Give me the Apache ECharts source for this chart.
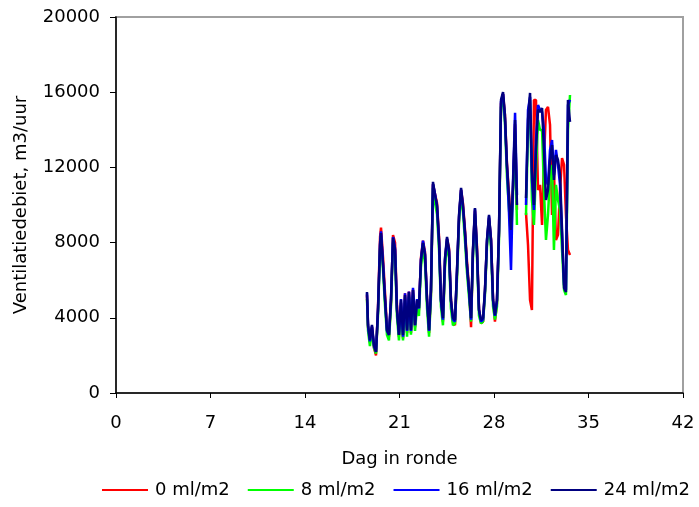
<!DOCTYPE html>
<html>
<head>
<meta charset="utf-8">
<script src="https://cdn.jsdelivr.net/npm/echarts@6/dist/echarts.min.js"></script>
<style>
  html, body { margin: 0; padding: 0; background: #fff; }
  #chart { width: 699px; height: 507px; }
</style>
</head>
<body>
<div id="chart"></div>
<script>
// Measurement days (day in round); two runs with a short outage between them
const daysRun1 = [18.59, 18.67, 18.81, 18.96, 19.11, 19.26, 19.41, 19.56,
  19.63, 19.78, 19.93, 20.07, 20.22, 20.37, 20.52, 20.67, 20.81, 20.96,
  21.11, 21.26, 21.41, 21.56, 21.70, 21.85, 22.00, 22.15, 22.30, 22.44,
  22.59, 22.74, 22.89, 23.04, 23.19, 23.33, 23.48, 23.63, 23.78, 23.93,
  24.07, 24.22, 24.37, 24.52, 24.67, 24.81, 24.96, 25.11, 25.26, 25.41,
  25.56, 25.70, 25.85, 26.00, 26.15, 26.30, 26.44, 26.59, 26.74, 26.89,
  27.04, 27.19, 27.33, 27.48, 27.63, 27.78, 27.93, 28.07, 28.22, 28.37,
  28.52, 28.67, 28.81, 28.96, 29.11, 29.26, 29.41, 29.56, 29.70];
const daysRun2 = [30.37, 30.52, 30.67, 30.81, 30.96, 31.11, 31.26, 31.41,
  31.56, 31.70, 31.85, 32.00, 32.15, 32.30, 32.44, 32.59, 32.74, 32.89,
  33.04, 33.19, 33.33, 33.48, 33.63];
const gapDay = 30.0;

// Ventilation rate (m3/uur) per dose
const flow0Run1 = [5200, 3500, 2700, 3500, 2400, 2000, 4600, 8300, 8800, 7200,
  5300, 3500, 3000, 4800, 8400, 8000, 4700, 3000, 4800, 2900,
  5300, 3200, 5400, 3200, 5500, 3500, 4900, 4400, 7200, 8100,
  7500, 5000, 3200, 5300, 11100, 10600, 10100, 8300, 5100, 3800,
  7000, 8200, 7700, 5000, 3800, 3600, 6400, 9300, 10800, 10100,
  8700, 7000, 5600, 3500, 7500, 9700, 7800, 4500, 3700, 3800,
  5400, 8000, 9300, 8200, 5000, 3800, 4800, 8500, 15400, 15900,
  14800, 12200, 10600, 8800, 11000, 14300, 9740];
const flow0Run2 = [9580, 7870, 4950, 4420, 15590, 15590, 10800, 11070, 8940, 12400,
  15060, 15220, 14260, 9470, 11860, 8140, 8410, 10800, 12500, 12130,
  9470, 7610, 7340];

const flow8Run1 = [5000, 3300, 2500, 3300, 2400, 2100, 4200, 7600, 8300, 6500,
  4600, 3100, 2800, 4600, 8000, 7300, 4100, 2800, 4600, 2800,
  4900, 3000, 5100, 3100, 5200, 3300, 4600, 4100, 6700, 7700,
  6900, 4500, 3000, 5100, 10900, 10100, 9500, 7600, 4600, 3600,
  6700, 7900, 7200, 4500, 3600, 3700, 6100, 9100, 10600, 9600,
  8100, 6400, 5100, 3800, 7200, 9500, 7200, 4100, 3700, 3800,
  5200, 7800, 9100, 7700, 4600, 3900, 4600, 8200, 15200, 15700,
  14400, 11500, 9800, 8200, 10600, 13800, 8940];
const flow8Run2 = [9470, 13990, 15590, 10270, 8940, 11860, 14520, 13990, 13990, 10800,
  8140, 9470, 11600, 12130, 7610, 11070, 10270, 9740, 7610, 5480,
  5210, 13990, 15850];

const flow16Run1 = [5300, 3550, 2750, 3550, 2500, 2200, 4500, 8000, 8600, 6900,
  5000, 3300, 3100, 5000, 8300, 7700, 4500, 3100, 5000, 3000,
  5300, 3300, 5400, 3300, 5600, 3600, 5000, 4500, 7100, 8100,
  7400, 5000, 3300, 5500, 11100, 10600, 9900, 8000, 4900, 3900,
  7100, 8200, 7500, 4900, 3900, 3800, 6500, 9400, 10800, 9900,
  8500, 6700, 5400, 3900, 7500, 9800, 7500, 4400, 3800, 3900,
  5400, 8100, 9400, 8100, 4900, 4100, 4900, 8600, 15500, 15900,
  14600, 12000, 9600, 6540, 11300, 14900, 10530];
const flow16Run2 = [10000, 15060, 15750, 11330, 9740, 13460, 15320, 15060, 14950, 13990,
  11330, 11070, 12930, 13460, 11600, 12930, 12130, 11070, 8410, 5750,
  5480, 15320, 15590];

const flow24Run1 = [5370, 3620, 2820, 3620, 2550, 2180, 4420, 7870, 8510, 6810,
  4950, 3350, 3090, 4950, 8250, 7610, 4420, 3090, 4950, 3090,
  5210, 3350, 5370, 3350, 5480, 3620, 4950, 4520, 7080, 7980,
  7340, 4950, 3350, 5480, 11230, 10530, 10000, 8140, 4950, 3990,
  7180, 8300, 7610, 4950, 3990, 3880, 6540, 9470, 10910, 10000,
  8570, 6810, 5480, 3990, 7610, 9840, 7610, 4420, 3880, 3990,
  5480, 8140, 9470, 8140, 4950, 4150, 4950, 8670, 15590, 16010,
  14790, 12130, 10430, 8670, 11070, 14520, 10000];
const flow24Run2 = [10370, 14520, 15960, 11860, 10000, 12930, 15060, 14950, 15160, 12930,
  10270, 10800, 12400, 13190, 11330, 12660, 12400, 11600, 8670, 5590,
  5370, 15590, 14420];

const seriesNames = ['0 ml/m2', '8 ml/m2', '16 ml/m2', '24 ml/m2'];
const seriesColors = ['#ff0000', '#00ff00', '#0000ff', '#000080'];
const xTicks = { min: 0, max: 42, step: 7 };
const yTicks = { min: 0, max: 20000, step: 4000 };

function joinRuns(run1, run2) {
  const out = daysRun1.map((d, i) => [d, run1[i]]);
  out.push([gapDay, null]);
  daysRun2.forEach((d, i) => out.push([d, run2[i]]));
  return out;
}

const runs = [
  joinRuns(flow0Run1, flow0Run2),
  joinRuns(flow8Run1, flow8Run2),
  joinRuns(flow16Run1, flow16Run2),
  joinRuns(flow24Run1, flow24Run2)
];

const FONT = 'DejaVu Sans';
const chart = echarts.init(document.getElementById('chart'), null, { renderer: 'canvas' });

chart.setOption({
  animation: false,
  backgroundColor: '#ffffff',
  grid: {
    left: 116, right: 16, top: 17, bottom: 114,
    show: true, borderColor: '#a0a0a0', borderWidth: 2, backgroundColor: 'transparent'
  },
  legend: {
    left: 102, bottom: 8, width: 597, padding: 0,
    itemWidth: 46, itemHeight: 12, itemGap: 18,
    textStyle: { fontFamily: FONT, fontSize: 18, color: '#000', padding: [0, 0, 0, 2] },
    data: seriesNames.map((n, i) => ({ name: n, icon: 'path://M0,0 L46,0 L46,2 L0,2 Z', itemStyle: { color: seriesColors[i] } }))
  },
  xAxis: {
    type: 'value',
    min: xTicks.min, max: xTicks.max, interval: xTicks.step,
    name: 'Dag in ronde', nameLocation: 'middle', nameGap: 57,
    nameTextStyle: { fontFamily: FONT, fontSize: 18, color: '#000' },
    axisLine: { show: true, onZero: false, lineStyle: { color: '#000', width: 1.5 } },
    axisTick: { show: true, inside: false, length: 5, lineStyle: { color: '#000' } },
    axisLabel: { fontFamily: FONT, fontSize: 18, color: '#000', margin: 21 },
    splitLine: { show: false }
  },
  yAxis: {
    type: 'value',
    min: yTicks.min, max: yTicks.max, interval: yTicks.step,
    name: 'Ventilatiedebiet, m3/uur', nameLocation: 'middle', nameGap: 86, nameRotate: 90,
    nameTextStyle: { fontFamily: FONT, fontSize: 18, color: '#000' },
    axisLine: { show: true, lineStyle: { color: '#000', width: 1.5 } },
    axisTick: { show: true, inside: false, length: 6, lineStyle: { color: '#000' } },
    axisLabel: { fontFamily: FONT, fontSize: 18, color: '#000', margin: 16, formatter: (v) => String(v) },
    splitLine: { show: false }
  },
  series: runs.map((data, i) => ({
    name: seriesNames[i],
    type: 'line',
    data: data,
    showSymbol: false,
    symbol: 'none',
    connectNulls: false,
    color: seriesColors[i],
    lineStyle: { color: seriesColors[i], width: 2.5 },
    z: 2 + i
  }))
});
</script>
</body>
</html>
